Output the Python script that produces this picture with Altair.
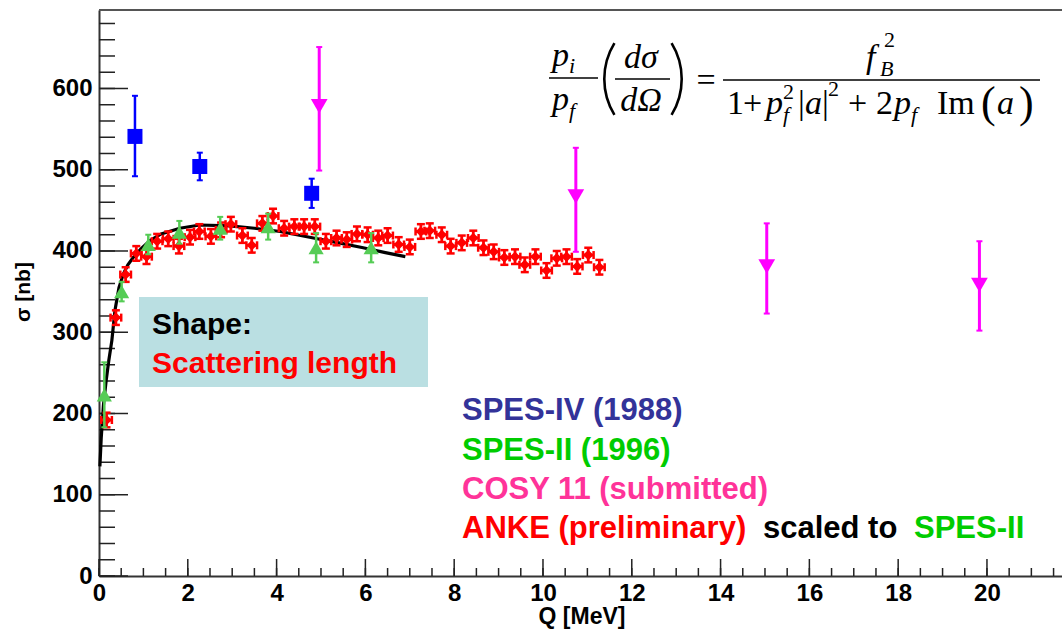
import altair as alt
import pandas as pd
import math

# ---------------- data ----------------
spes4_q = [0.81, 2.27, 4.79]
spes4_s = [541, 504, 471]
spes4_lo = [492, 487, 453]
spes4_hi = [591, 521, 489]

spes2_q = [0.12, 0.51, 1.11, 1.81, 2.73, 3.81, 4.89, 6.13]
spes2_s = [223, 350, 408, 423, 428, 430, 404, 404]
spes2_err = [40, 12, 12, 14, 14, 16, 18, 18]

cosy_q = [4.96, 10.74, 15.04, 19.83]
cosy_s = [578, 467, 381, 358]
cosy_lo = [499, 399, 323, 302]
cosy_hi = [651, 527, 434, 412]

anke_q = [0.17, 0.38, 0.60, 0.84, 1.07, 1.31, 1.56, 1.80, 2.05, 2.26, 2.52, 2.75,
          2.97, 3.23, 3.44, 3.68, 3.92, 4.17, 4.40, 4.62, 4.86, 5.11, 5.35, 5.58,
          5.81, 6.05, 6.29, 6.50, 6.75, 7.00, 7.25, 7.45, 7.72, 7.92, 8.17, 8.43,
          8.66, 8.89, 9.13, 9.37, 9.59, 9.83, 10.08, 10.31, 10.53, 10.77, 11.02, 11.27]
anke_s = [192, 318, 371, 397, 393, 412, 415, 406, 417, 424, 418, 426,
          433, 419, 407, 434, 443, 428, 430, 430, 430, 412, 416, 414,
          421, 420, 416, 419, 408, 405, 424, 425, 420, 406, 410, 416,
          404, 399, 392, 393, 383, 393, 376, 391, 393, 381, 395, 380]
anke_ds = [9] * len(anke_q)
anke_dq = [0.12] * len(anke_q)

fit_q = [0.02, 0.05, 0.10, 0.16, 0.22, 0.29, 0.36, 0.45, 0.55, 0.65, 0.77, 0.95,
         1.15, 1.40, 1.82, 2.27, 2.95, 3.50, 4.08, 4.83, 5.40, 5.95, 6.45, 6.90]
fit_s = [135, 170, 210, 240, 265, 290, 327, 355, 372, 383, 392, 403,
         413, 421, 428, 432, 431, 428, 424, 416, 410, 404, 398, 393]

x_major = [0, 2, 4, 6, 8, 10, 12, 14, 16, 18, 20]
x_minor = [i * 0.5 for i in range(44)]
y_major = [0, 100, 200, 300, 400, 500, 600]
y_minor = [i * 20 for i in range(35)]

# ---------------- layout ----------------
W, H = 963, 566
X0, Y0 = 99, 10
X_MAX, Y_MAX = 21.69, 696.6
SANS = "Liberation Sans"
SERIF = "Liberation Serif"

xs = alt.Scale(domain=[0, X_MAX], nice=False, zero=False)
ys = alt.Scale(domain=[0, Y_MAX], nice=False, zero=False)
x_axis = alt.Axis(values=x_major, ticks=False, grid=False, title=None,
                  labelFont=SANS, labelFontSize=24, labelFontWeight="bold",
                  labelColor="black", labelPadding=5, labelFlush=False,
                  labelOverlap=False, domainColor="#333333", domainWidth=2)
y_axis = alt.Axis(values=y_major, ticks=False, grid=False, title=None,
                  labelFont=SANS, labelFontSize=24, labelFontWeight="bold",
                  labelColor="black", labelPadding=7, labelFlush=False,
                  labelOverlap=False, domainColor="#333333", domainWidth=2)


def X(f):
    return alt.X(f, type="quantitative", scale=xs, axis=x_axis)


def Y(f):
    return alt.Y(f, type="quantitative", scale=ys, axis=y_axis)


def one():
    return pd.DataFrame({"k": [0]})


def txt(s, x, y, size, color="black", font=SANS, weight="bold", style="normal",
        align="left", angle=0, baseline="alphabetic"):
    return alt.Chart(pd.DataFrame({"t": [s]})).mark_text(
        font=font, fontSize=size, fontWeight=weight, fontStyle=style,
        color=color, align=align, baseline=baseline, angle=angle
    ).encode(text="t:N", x=alt.value(x - X0), y=alt.value(y - Y0))


def hbar(x1, x2, y, w=1.6, color="black"):
    return alt.Chart(one()).mark_rule(color=color, strokeWidth=w).encode(
        x=alt.value(x1 - X0), x2=alt.value(x2 - X0), y=alt.value(y - Y0))


def paren(edge_x, cy, left=True, r=70, span=0.55, th=2.6):
    if left:
        cx = edge_x + r
        mid = 1.5 * math.pi
    else:
        cx = edge_x - r
        mid = 0.5 * math.pi
    return alt.Chart(one()).mark_arc(
        radius=r, radius2=r - th, theta=mid - span, theta2=mid + span, color="black"
    ).encode(x=alt.value(cx - X0), y=alt.value(cy - Y0))


# ---------------- frame ticks ----------------
TICK = "#222222"
ytick_major = alt.Chart(pd.DataFrame({"v": y_major})).mark_rule(
    color=TICK, strokeWidth=1.5).encode(y=Y("v"), x=alt.value(0), x2=alt.value(29))
ytick_minor = alt.Chart(pd.DataFrame({"v": y_minor})).mark_rule(
    color=TICK, strokeWidth=1.5).encode(y=Y("v"), x=alt.value(0), x2=alt.value(16))
xtick_major = alt.Chart(pd.DataFrame({"v": x_major})).mark_rule(
    color=TICK, strokeWidth=1.5).encode(x=X("v"), y=alt.value(H), y2=alt.value(H - 17))
xtick_minor = alt.Chart(pd.DataFrame({"v": x_minor})).mark_rule(
    color=TICK, strokeWidth=1.5).encode(x=X("v"), y=alt.value(H), y2=alt.value(H - 8))
top_frame = hbar(X0, X0 + W + 5, Y0, w=2, color="#555555")

# ---------------- annotation box ----------------
box = alt.Chart(one()).mark_rect(color="#badfe2").encode(
    x=alt.value(139 - X0), x2=alt.value(428 - X0),
    y=alt.value(297 - Y0), y2=alt.value(387 - Y0))

# ---------------- series ----------------
fit_df = pd.DataFrame({"q": fit_q, "s": fit_s})
fit = alt.Chart(fit_df).mark_line(color="black", strokeWidth=3.2).encode(
    x=X("q"), y=Y("s"), order="q:Q")

anke_df = pd.DataFrame({"q": anke_q, "s": anke_s})
anke_df["lo"] = anke_df["s"] - pd.Series(anke_ds)
anke_df["hi"] = anke_df["s"] + pd.Series(anke_ds)
anke_df["ql"] = anke_df["q"] - pd.Series(anke_dq)
anke_df["qh"] = anke_df["q"] + pd.Series(anke_dq)
RED = "#ff0000"
anke_v = alt.Chart(anke_df).mark_rule(color=RED, strokeWidth=2.8).encode(
    x=X("q"), y=Y("lo"), y2="hi")
anke_h = alt.Chart(anke_df).mark_rule(color=RED, strokeWidth=2.8).encode(
    x=X("ql"), x2="qh", y=Y("s"))


def cap(df, color, field_x, field_y, orient, size=8, th=2.5):
    return alt.Chart(df).mark_tick(color=color, orient=orient, size=size,
                                   thickness=th, opacity=1).encode(
        x=X(field_x), y=Y(field_y))


anke_caps = [cap(anke_df, RED, "q", "lo", "horizontal"),
             cap(anke_df, RED, "q", "hi", "horizontal"),
             cap(anke_df, RED, "ql", "s", "vertical"),
             cap(anke_df, RED, "qh", "s", "vertical")]
anke_pts = alt.Chart(anke_df).mark_point(shape="diamond", filled=True, size=110,
                                         color=RED, opacity=1).encode(x=X("q"), y=Y("s"))

GREEN = "#55cc55"
sp2_df = pd.DataFrame({"q": spes2_q, "s": spes2_s, "e": spes2_err})
sp2_df["lo"] = sp2_df["s"] - sp2_df["e"]
sp2_df["hi"] = sp2_df["s"] + sp2_df["e"]
sp2_bar = alt.Chart(sp2_df).mark_rule(color=GREEN, strokeWidth=2.5).encode(
    x=X("q"), y=Y("lo"), y2="hi")
sp2_caps = [cap(sp2_df, GREEN, "q", "lo", "horizontal", 6, 2),
            cap(sp2_df, GREEN, "q", "hi", "horizontal", 6, 2)]
sp2_pts = alt.Chart(sp2_df).mark_point(shape="triangle-up", filled=True, size=230,
                                       color=GREEN, opacity=1).encode(x=X("q"), y=Y("s"))

BLUE = "#0000ff"
sp4_df = pd.DataFrame({"q": spes4_q, "s": spes4_s, "lo": spes4_lo, "hi": spes4_hi})
sp4_bar = alt.Chart(sp4_df).mark_rule(color=BLUE, strokeWidth=2.5).encode(
    x=X("q"), y=Y("lo"), y2="hi")
sp4_caps = [cap(sp4_df, BLUE, "q", "lo", "horizontal", 6, 2),
            cap(sp4_df, BLUE, "q", "hi", "horizontal", 6, 2)]
sp4_pts = alt.Chart(sp4_df).mark_point(shape="square", filled=True, size=225,
                                       color=BLUE, opacity=1).encode(x=X("q"), y=Y("s"))

MAG = "#ff00ff"
cosy_df = pd.DataFrame({"q": cosy_q, "s": cosy_s, "lo": cosy_lo, "hi": cosy_hi})
cosy_bar = alt.Chart(cosy_df).mark_rule(color=MAG, strokeWidth=3).encode(
    x=X("q"), y=Y("lo"), y2="hi")
cosy_caps = [cap(cosy_df, MAG, "q", "lo", "horizontal", 6, 2),
             cap(cosy_df, MAG, "q", "hi", "horizontal", 6, 2)]
cosy_pts = alt.Chart(cosy_df).mark_point(shape="triangle-down", filled=True, size=280,
                                         color=MAG, opacity=1).encode(x=X("q"), y=Y("s"))

# ---------------- texts ----------------
LEG = 31
texts = [
    txt("Shape:", 152, 334, 30, "black"),
    txt("Scattering length", 152, 373, 30, RED),
    txt("SPES-IV (1988)", 462, 420, LEG, "#333399"),
    txt("SPES-II (1996)", 462, 460, LEG, "#00cc00"),
    txt("COSY 11 (submitted)", 462, 499, LEG, "#ff3399"),
    txt("ANKE (preliminary)", 462, 538, LEG, RED),
    txt("scaled to", 763, 538, LEG, "black"),
    txt("SPES-II", 914, 538, LEG, "#00cc00"),
    txt("σ [nb]", 30, 292, 21, "black", angle=270, align="center"),
    txt("Q [MeV]", 582, 624, 23, "black", align="center"),
]

# ---------------- formula ----------------
FS, SS = 34, 22
formula = [
    txt("p", 552, 66, FS, font=SERIF, weight="normal", style="italic"),
    txt("i", 569, 73, SS, font=SERIF, weight="normal", style="italic"),
    hbar(549, 598, 78),
    txt("p", 552, 110, FS, font=SERIF, weight="normal", style="italic"),
    txt("f", 569, 118, SS, font=SERIF, weight="normal", style="italic"),
    paren(603, 79, left=True),
    txt("dσ", 641, 68, FS, font=SERIF, weight="normal", style="italic", align="center"),
    hbar(615, 670, 79),
    txt("dΩ", 641, 111, FS, font=SERIF, weight="normal", style="italic", align="center"),
    paren(683, 79, left=False),
    txt("=", 706, 91, FS, font=SERIF, weight="normal", align="center"),
    hbar(723, 1040, 80),
    txt("f", 866, 68, FS, font=SERIF, weight="normal", style="italic"),
    txt("B", 880, 76, SS, font=SERIF, weight="normal", style="italic"),
    txt("2", 884, 47, SS, font=SERIF, weight="normal"),
    txt("1", 727, 114, FS, font=SERIF, weight="normal"),
    txt("+", 743, 114, FS, font=SERIF, weight="normal"),
    txt("p", 766, 114, FS, font=SERIF, weight="normal", style="italic"),
    txt("2", 783, 99, SS, font=SERIF, weight="normal"),
    txt("f", 783, 122, SS, font=SERIF, weight="normal", style="italic"),
    txt("|", 798, 114, FS, font=SERIF, weight="normal"),
    txt("a", 805, 114, FS, font=SERIF, weight="normal", style="italic"),
    txt("|", 822, 114, FS, font=SERIF, weight="normal"),
    txt("2", 828, 96, SS, font=SERIF, weight="normal"),
    txt("+", 848, 114, FS, font=SERIF, weight="normal"),
    txt("2", 876, 114, FS, font=SERIF, weight="normal"),
    txt("p", 894, 114, FS, font=SERIF, weight="normal", style="italic"),
    txt("f", 911, 122, SS, font=SERIF, weight="normal", style="italic"),
    txt("Im", 937, 114, FS, font=SERIF, weight="normal"),
    txt("(", 981, 117, 44, font=SERIF, weight="normal"),
    txt("a", 997, 114, FS, font=SERIF, weight="normal", style="italic"),
    txt(")", 1019, 117, 44, font=SERIF, weight="normal"),
]

layers = ([box, ytick_minor, ytick_major, xtick_minor, xtick_major, top_frame, fit,
           anke_v, anke_h] + anke_caps + [anke_pts, sp2_bar] + sp2_caps + [sp2_pts, sp4_bar]
          + sp4_caps + [sp4_pts, cosy_bar] + cosy_caps + [cosy_pts] + texts + formula)

chart = alt.layer(*layers).properties(
    width=W, height=H,
    autosize=alt.AutoSizeParams(type="none"),
    padding={"left": X0, "top": Y0, "right": 0, "bottom": 633 - Y0 - H},
    background="white",
).configure_view(strokeWidth=0)

chart.save("out.html", embed_options={"renderer": "svg", "actions": False})
